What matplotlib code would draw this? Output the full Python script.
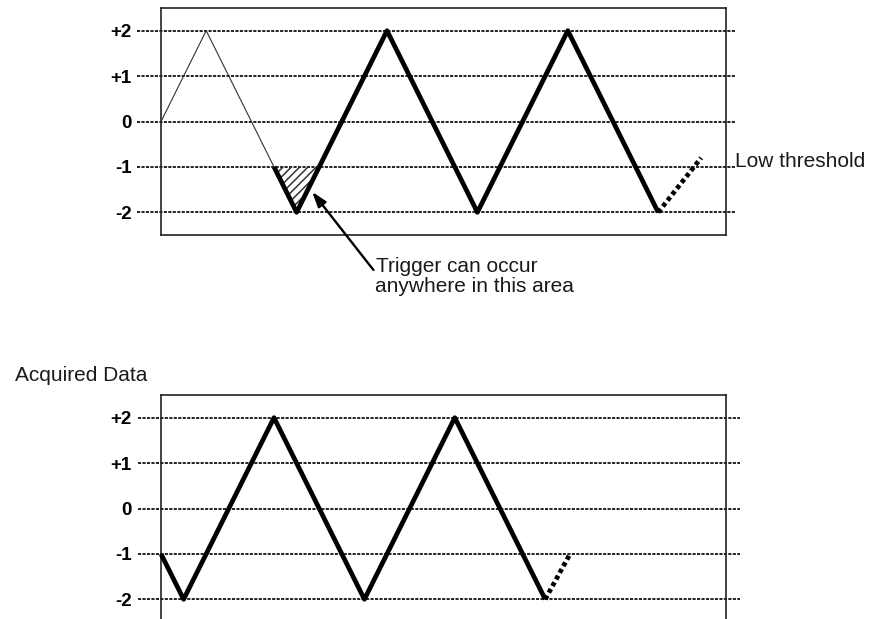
import matplotlib
matplotlib.use("Agg")
import matplotlib.pyplot as plt

plt.rcParams['font.family'] = ['Liberation Sans', 'DejaVu Sans']
plt.rcParams['hatch.linewidth'] = 1.1

# ---- data ----
levels = [2, 1, 0, -1, -2]
level_labels = ['+2', '+1', '0', '-1', '-2']

top_thin_t = [0, 2, 5]
top_thin_v = [0, 2, -1]
top_thick_t = [5, 6, 10, 14, 18, 22]
top_thick_v = [-1, -2, 2, -2, 2, -2]
top_dotted_t = [22, 23.9]
top_dotted_v = [-2, -0.8]
trigger_area_t = [5, 6, 7]
trigger_area_v = [-1, -2, -1]

bottom_thick_t = [0, 1, 5, 9, 13, 17]
bottom_thick_v = [-1, -2, 2, -2, 2, -2]
bottom_dotted_t = [17, 18.1]
bottom_dotted_v = [-2, -1]

W, H = 870, 619
fig = plt.figure(figsize=(W / 100, H / 100), dpi=100)


def px_axes(left, top, right, bottom):
    return fig.add_axes([left / W, 1 - bottom / H, (right - left) / W, (bottom - top) / H])


def style_axes(ax, grid_x0, grid_x1, show_bottom=True):
    ax.set_xlim(0, 25)
    ax.set_ylim(-2.5, 2.5)
    ax.set_xticks([])
    ax.set_yticks(levels)
    ax.set_yticklabels(level_labels, fontweight='bold', fontsize=13.5)
    ax.tick_params(axis='y', length=0, pad=21)
    for name, sp in ax.spines.items():
        sp.set_linewidth(1.2)
        sp.set_color('#222222')
    if not show_bottom:
        ax.spines['bottom'].set_visible(False)
    ax.hlines(levels, grid_x0, grid_x1, colors='#222222', linewidth=1.4,
              linestyles=[(0, (1.6, 0.7))], clip_on=False, zorder=1)


# ---- top panel ----
ax1 = px_axes(161, 8, 726, 235)
style_axes(ax1, -1.06, 25.4)
ax1.plot(top_thin_t, top_thin_v, color='#333333', lw=0.8, zorder=3)
ax1.fill(trigger_area_t, trigger_area_v, facecolor='none', edgecolor='#333333',
         hatch='////', linewidth=0, zorder=2)
ax1.plot(top_thick_t, top_thick_v, color='black', lw=3.4,
         solid_joinstyle='round', solid_capstyle='butt', zorder=4)
ax1.plot(top_dotted_t, top_dotted_v, color='black', lw=3.4,
         linestyle=(0, (0.9, 0.7)), dash_capstyle='butt', zorder=4, clip_on=False)
ax1.text(25.4, -1, 'Low threshold', fontsize=15, va='baseline', ha='left',
         color='#1a1a1a', clip_on=False)
ax1.annotate('', xy=(6.69, -1.55), xytext=(9.4, -3.27), xycoords='data',
             textcoords='data', annotation_clip=False,
             arrowprops=dict(arrowstyle='-|>,head_length=0.9,head_width=0.3',
                             color='black', lw=1.7, shrinkA=0, shrinkB=0))

fig.text(376 / W, 1 - 272 / H, 'Trigger can occur', fontsize=15,
         va='baseline', ha='left', color='#1a1a1a')
fig.text(375 / W, 1 - 292 / H, 'anywhere in this area', fontsize=15,
         va='baseline', ha='left', color='#1a1a1a')

# ---- bottom panel ----
fig.text(15 / W, 1 - 381 / H, 'Acquired Data', fontsize=15,
         va='baseline', ha='left', color='#1a1a1a')

ax2 = px_axes(161, 395, 726, 622)
style_axes(ax2, -1.02, 25.6, show_bottom=False)
ax2.plot(bottom_thick_t, bottom_thick_v, color='black', lw=3.4,
         solid_joinstyle='round', solid_capstyle='butt', zorder=4, clip_on=False)
ax2.plot(bottom_dotted_t, bottom_dotted_v, color='black', lw=3.4,
         linestyle=(0, (0.9, 0.7)), dash_capstyle='butt', zorder=4)

fig.savefig('out.png', dpi=100)
